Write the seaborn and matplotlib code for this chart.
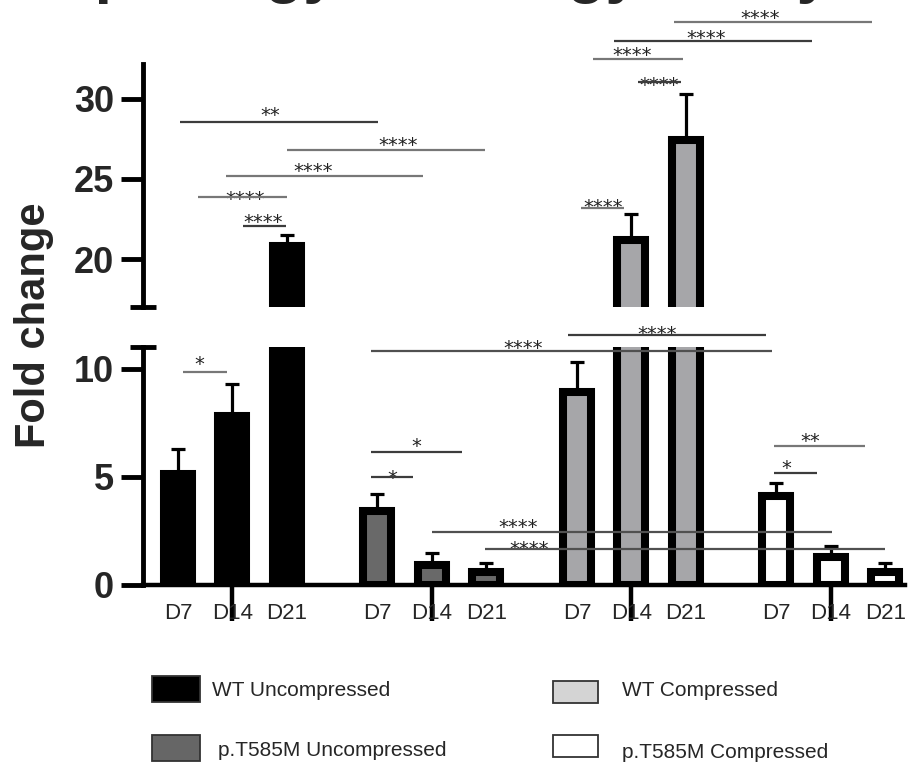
import numpy as np
import pandas as pd
import matplotlib
matplotlib.use("Agg")
import matplotlib.pyplot as plt
from matplotlib.patches import Rectangle
import seaborn as sns

# ---- data -------------------------------------------------------------
groups = ["WT Uncompressed", "p.T585M Uncompressed", "WT Compressed", "p.T585M Compressed"]
days = ["D7", "D14", "D21"]

wt_unc_mean = [5.12, 7.79, 20.81]
wt_unc_sem = [1.15, 1.52, 0.69]
mut_unc_mean = [3.41, 0.92, 0.60]
mut_unc_sem = [0.78, 0.55, 0.41]
wt_comp_mean = [8.94, 21.19, 27.44]
wt_comp_sem = [1.38, 1.62, 2.87]
mut_comp_mean = [4.10, 1.29, 0.60]
mut_comp_sem = [0.60, 0.51, 0.41]

upper_ticks = [20, 25, 30]
lower_ticks = [0, 5, 10]

# significance brackets: (panel, x from, x to, y, label, label x, label lift px, colour)
brackets = [
    ("top", 0.04, 3.67, 28.56, "**", 1.69, 13, "#3c3c3c"),
    ("top", 2.00, 5.63, 26.81, "****", 4.04, 11, "#777777"),
    ("top", 0.88, 4.50, 25.20, "****", 2.48, 10, "#777777"),
    ("top", 0.37, 2.00, 23.87, "****", 1.23, 4, "#777777"),
    ("top", 1.19, 1.98, 22.06, "****", 1.56, 10, "#3c3c3c"),
    ("top", 7.40, 8.18, 23.19, "****", 7.80, 7, "#777777"),
    ("top", 8.44, 9.23, 31.06, "****", 8.83, 3, "#3c3c3c"),
    ("top", 7.62, 9.27, 32.50, "****", 8.33, 10, "#777777"),
    ("top", 8.00, 11.63, 33.63, "****", 9.69, 9, "#3c3c3c"),
    ("top", 9.10, 12.73, 34.81, "****", 10.68, 10, "#777777"),
    ("bot", 0.09, 0.90, 9.86, "*", 0.40, 13, "#777777"),
    ("bot", 3.54, 10.90, 10.83, "****", 6.33, 8, "#505050"),
    ("bot", 7.16, 10.79, 11.57, "****", 8.79, 6, "#3c3c3c"),
    ("bot", 3.54, 5.21, 6.17, "*", 4.37, 11, "#3c3c3c"),
    ("bot", 3.54, 4.31, 4.98, "*", 3.94, 5, "#3c3c3c"),
    ("bot", 4.66, 12.00, 2.44, "****", 6.24, 11, "#505050"),
    ("bot", 5.63, 12.97, 1.66, "****", 6.44, 6, "#505050"),
    ("bot", 10.94, 12.61, 6.41, "**", 11.60, 11, "#777777"),
    ("bot", 10.94, 11.72, 5.16, "*", 11.17, 11, "#3c3c3c"),
]

bar_fill = ["#000000", "#696969", "#a5a5aa", "#ffffff"]
legend_fill = ["#000000", "#666666", "#d4d4d4", "#ffffff"]

# ---- table -------------------------------------------------------------
means = [wt_unc_mean, mut_unc_mean, wt_comp_mean, mut_comp_mean]
sems = [wt_unc_sem, mut_unc_sem, wt_comp_sem, mut_comp_sem]
group_step = 3.66
rows = []
for g, name in enumerate(groups):
    for d, day in enumerate(days):
        rows.append({"group": name, "day": day, "pos": g * group_step + d,
                     "fold": means[g][d], "sem": sems[g][d]})
df = pd.DataFrame(rows)
centers = [g * group_step + 1 for g in range(len(groups))]

# ---- figure ------------------------------------------------------------
sns.set_style("white")
plt.rcParams["font.family"] = ["Liberation Sans", "DejaVu Sans"]

W, H = 913, 767
fig = plt.figure(figsize=(W / 100, H / 100), dpi=100)


def box(x0, y0, x1, y1):
    return [x0 / W, 1 - y1 / H, (x1 - x0) / W, (y1 - y0) / H]


ax_top = fig.add_axes(box(143, 0, 905, 307))
ax_bot = fig.add_axes(box(143, 347, 905, 585))
axes = {"top": ax_top, "bot": ax_bot}

for key, ax in axes.items():
    sns.barplot(data=df, x="pos", y="fold", hue="group", hue_order=groups,
                palette=dict(zip(groups, bar_fill)), native_scale=True,
                dodge=False, width=0.514, edgecolor="black", linewidth=5.8,
                errorbar=None, legend=False, ax=ax)
    ax.errorbar(df["pos"], df["fold"], yerr=[np.zeros(len(df)), df["sem"]],
                fmt="none", ecolor="black", elinewidth=2.3, capsize=5,
                capthick=2.3, zorder=3)
    ax.set_xlim(-0.642, 13.34)
    ax.set_xlabel("")
    ax.set_ylabel("")
    for s in ("top", "right"):
        ax.spines[s].set_visible(False)
    ax.spines["left"].set_linewidth(3.5)
    ax.spines["left"].set_color("black")
    ax.tick_params(axis="y", which="major", direction="out", length=16,
                   width=3.5, pad=5, color="black", left=True)

ax_top.set_ylim(17, 17 + 307 / 16)
ax_top.spines["left"].set_bounds(17, 32.2)
ax_top.spines["bottom"].set_visible(False)
ax_top.set_xticks([])
ax_top.set_yticks(upper_ticks, labels=[str(t) for t in upper_ticks],
                  fontsize=26, fontweight="bold")

ax_bot.set_ylim(0, 11)
ax_bot.spines["left"].set_bounds(0, 11)
ax_bot.spines["bottom"].set_linewidth(3.2)
ax_bot.spines["bottom"].set_color("black")
ax_bot.set_yticks(lower_ticks, labels=[str(t) for t in lower_ticks],
                  fontsize=26, fontweight="bold")
# day labels sit on unmarked minor ticks; a long mark at each group centre
ax_bot.xaxis.remove_overlapping_locs = False
ax_bot.set_xticks(df["pos"], labels=df["day"], minor=True, fontsize=16)
ax_bot.tick_params(axis="x", which="minor", length=0, pad=13, bottom=True)
ax_bot.set_xticks(centers, labels=[""] * len(centers))
ax_bot.tick_params(axis="x", which="major", direction="out", length=26,
                   width=3.2, color="black", bottom=True)

# caps marking the break in the y axis
cap = 13 / 762
for ax, yv in ((ax_top, 17), (ax_bot, 11)):
    ax.plot([-cap, cap], [yv, yv], transform=ax.get_yaxis_transform(),
            color="black", lw=3.5, clip_on=False, solid_capstyle="butt")

# significance brackets
for panel, x1, x2, y, label, tx, lift, col in brackets:
    ax = axes[panel]
    ax.plot([x1, x2], [y, y], color=col, lw=1.6, clip_on=False, zorder=4,
            solid_capstyle="butt")
    ax.annotate(label, xy=(tx, y), xytext=(0, (lift - 11.6) * 0.72),
                textcoords="offset points", ha="center", va="baseline",
                fontsize=14, family="DejaVu Sans", color="#222222",
                annotation_clip=False)

fig.text(34 / W, 1 - 325 / H, "Fold change", rotation=90, ha="center",
         va="center", fontsize=30, fontweight="bold")
fig.text(-20 / W, 1 + 9 / H, "Morphology Histology Study", fontsize=45,
         fontweight="bold", ha="left", va="baseline")

# legend
legend_boxes = [(152, 676, 200, 702), (152, 735, 200, 761),
                (553, 681, 598, 703), (553, 735, 598, 757)]
legend_text = [(212, 690), (218, 750), (622, 690), (622, 752)]
for name, fill, (x0, y0, x1, y1), (tx, ty) in zip(groups, legend_fill,
                                                   legend_boxes, legend_text):
    fig.add_artist(Rectangle((x0 / W, 1 - y1 / H), (x1 - x0) / W, (y1 - y0) / H,
                             transform=fig.transFigure, facecolor=fill,
                             edgecolor="#333333", lw=1.3))
    fig.text(tx / W, 1 - ty / H, name, ha="left", va="center", fontsize=15)

fig.savefig("out.png", dpi=100)
